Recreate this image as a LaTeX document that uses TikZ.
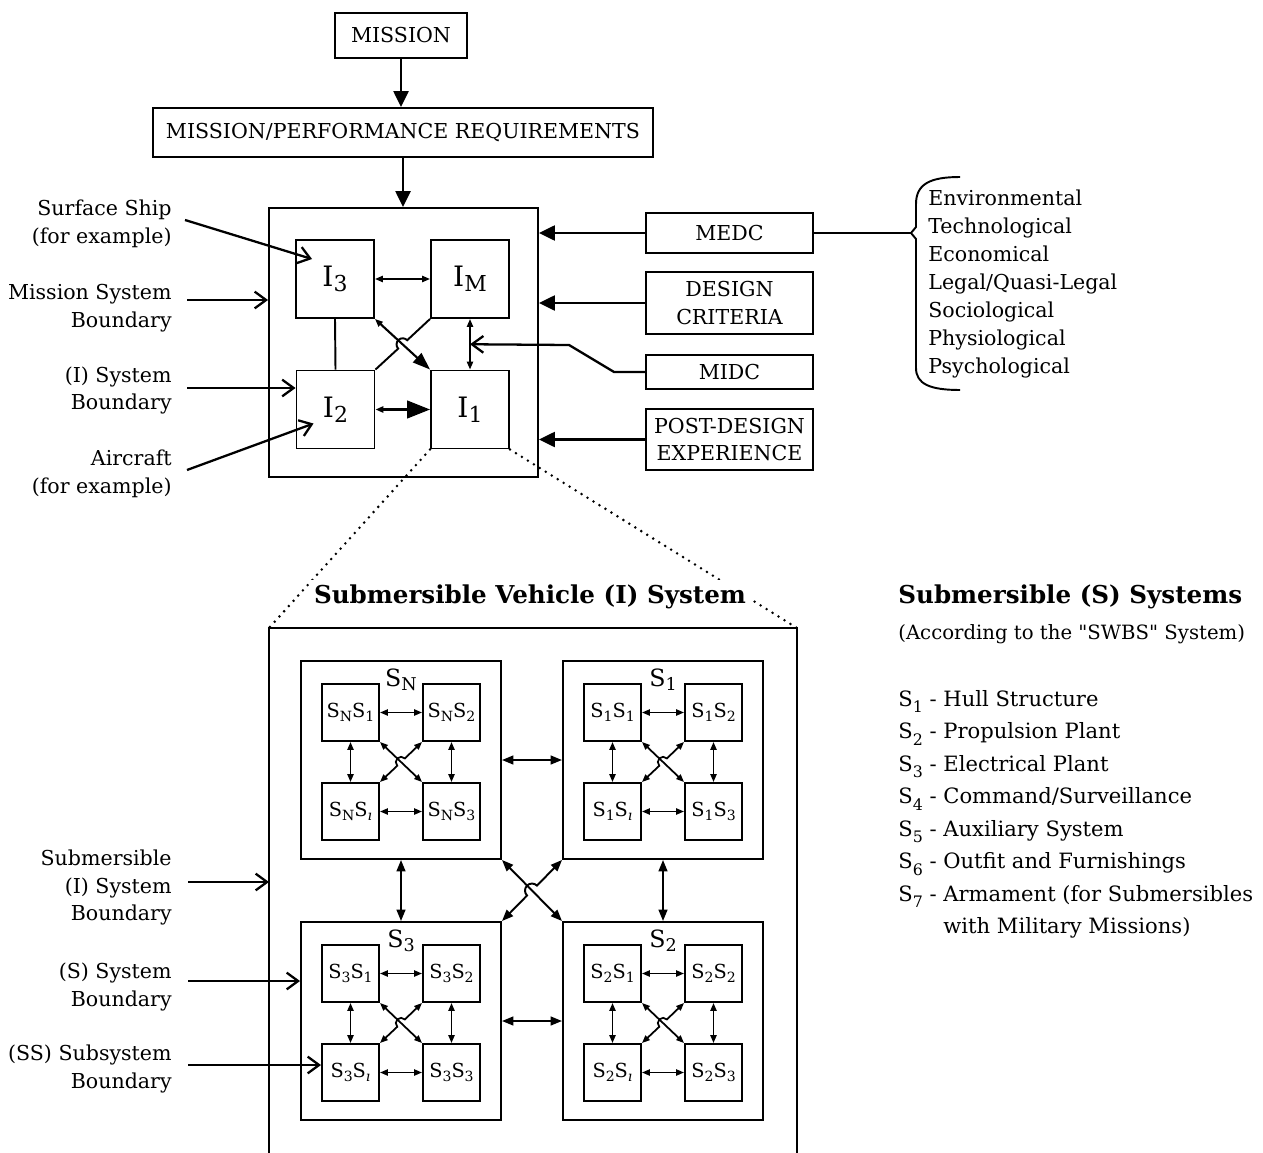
\documentclass[tikz,border=0pt]{standalone}
\usepackage{fontspec}
\setmainfont{DejaVu Serif}
\newfontfamily\rawfont{DejaVu Serif}[Ligatures=TeXOff]
\usetikzlibrary{arrows.meta,calc}

\newcommand\Isub[1]{I\raisebox{-0.35ex}{\fontsize{12.5}{12.5}\selectfont #1}}
\newcommand\ssub[1]{\raisebox{-0.4ex}{\fontsize{8}{8}\selectfont #1}}
\newcommand\lsub[1]{\raisebox{-0.6ex}{\fontsize{9}{9}\selectfont #1}}

\newcommand\SubSys[4]{%
  \node[box,pbox={200}{198}] (#1) at (#2+100,-#3-99) {};
  \node[font=\fontsize{13.5}{13.5}\selectfont] (#1l) at (#2+100,-#3-19) {S\raisebox{-0.35ex}{\fontsize{10}{10}\selectfont #4}};
  \node[box,pbox={57}{57},font=\fontsize{11}{11}\selectfont] (#1a) at (#2+49.5,-#3-51.5) {S\ssub{#4}S\ssub{1}};
  \node[box,pbox={57}{57},font=\fontsize{11}{11}\selectfont] (#1b) at (#2+150.5,-#3-51.5) {S\ssub{#4}S\ssub{2}};
  \node[box,pbox={57}{57},font=\fontsize{11}{11}\selectfont] (#1c) at (#2+49.5,-#3-150.5) {S\ssub{#4}S\ssub{\textit{\i}}};
  \node[box,pbox={57}{57},font=\fontsize{11}{11}\selectfont] (#1d) at (#2+150.5,-#3-150.5) {S\ssub{#4}S\ssub{3}};
  \draw[sarr] (#1a.east) -- (#1b.west);
  \draw[sarr] (#1c.east) -- (#1d.west);
  \draw[sarr] (#1a.south) -- (#1c.north);
  \draw[sarr] (#1b.south) -- (#1d.north);
  \draw[sarr] (#1a.south east) -- (#1d.north west);
  \coordinate (#1x) at (intersection of #1a.south east--#1d.north west and #1b.south west--#1c.north east);
  \draw[sarr] (#1b.south west) -- ($(#1x)!3pt!(#1b.south west)$) arc[start angle=44,end angle=224,radius=3pt] -- (#1c.north east);
}

\begin{document}
\begin{tikzpicture}[x=0.02cm,y=0.02cm,
  every node/.style={font=\fontsize{11.7}{15.9}\selectfont},
  box/.style={draw, line width=1.1pt, inner sep=0pt, align=center},
  pbox/.style 2 args={minimum width=#1*0.02cm, minimum height=#2*0.02cm},
  ln/.style={line width=1.1pt},
  bigarr/.style={-{Triangle[length=9pt,width=8.5pt]}, line width=1.2pt},
  barb/.style={-{Straight Barb[length=6.5pt,width=9.5pt]}, line width=1.3pt},
  sarr/.style={{Triangle[length=4.5pt,width=3.5pt]}-{Triangle[length=4.5pt,width=3.5pt]}, line width=1pt},
  marr/.style={{Triangle[length=6.5pt,width=5pt]}-{Triangle[length=6.5pt,width=5pt]}, line width=1.1pt},
  lbl/.style={anchor=east, align=right, inner sep=0pt},
  dots/.style={line width=1.6pt, line cap=round, dash pattern=on 0pt off 4pt},
]
\useasboundingbox (0,0) rectangle (1263,-1152);

% ---------- top part ----------
\node[box,pbox={132}{45}] (mission) at (401,-35.5) {MISSION};
\node[box,pbox={500}{49}] (req) at (403,-132.5) {MISSION/PERFORMANCE REQUIREMENTS};
\node[box,pbox={269}{269}] (isys) at (403.5,-342.5) {};
\node[box,pbox={78}{78},font=\fontsize{16}{16}\selectfont] (i3) at (335,-279) {\Isub{3}};
\node[box,pbox={78}{78},font=\fontsize{16}{16}\selectfont] (im) at (470,-279) {\Isub{M}};
\node[box,pbox={78}{78},font=\fontsize{16}{16}\selectfont] (i2) at (335.5,-409.5) {\Isub{2}};
\node[box,pbox={78}{78},font=\fontsize{16}{16}\selectfont] (i1) at (470,-409.5) {\Isub{1}};

\node[box,pbox={167}{40}] (medc) at (729.5,-233) {MEDC};
\node[box,pbox={167}{62}] (dc) at (729.5,-303) {DESIGN\\CRITERIA};
\node[box,pbox={167}{34}] (midc) at (729.5,-372) {MIDC};
\node[box,pbox={167}{61}] (pde) at (729.5,-439.5) {POST-DESIGN\\EXPERIENCE};

\draw[bigarr] (mission.south) -- (mission.south |- req.north);
\draw[bigarr] (req.south) -- (req.south |- isys.north);
\draw[bigarr] (medc.west) -- (medc.west -| isys.east);
\draw[bigarr] (dc.west) -- (dc.west -| isys.east);
\draw[bigarr] (pde.west) -- (pde.west -| isys.east);

\draw[sarr] (i3.east) -- (im.west);
\draw[ln] (i3.south) -- (i2.north);
\draw[sarr] (im.south) -- (i1.north);
\draw[{Triangle[length=4.5pt,width=3.5pt]}-{Triangle[length=10pt,width=7pt]}, line width=1.2pt] (i3.south east) -- (i1.north west);
\coordinate (ix) at (intersection of i3.south east--i1.north west and im.south west--i2.north east);
\draw[ln] (im.south west) -- ($(ix)!3.5pt!(im.south west)$) arc[start angle=43,end angle=223,radius=3.5pt] -- (i2.north east);
\draw[{Triangle[length=4.5pt,width=3.5pt]}-{Triangle[length=13pt,width=10pt]}, line width=1.2pt] (i2.east) -- (i1.west);

\coordinate (midv) at ($(im.south)!0.5!(i1.north)$);
\draw[barb] (midc.west) -- ++(-31,0) -- ++(-45,27) -- (midv);

% brace and list
\draw[ln] (medc.east) -- (912,-233);
\draw[ln] (960,-177) .. controls (930,-177) and (916,-184) .. (916,-204) -- (916,-227) -- (911,-233) -- (916,-239) -- (916,-368) .. controls (916,-384) and (930,-390) .. (960,-390);
\node[anchor=west, align=left, inner sep=0pt] (facts) at (928,-284) {Environmental\\Technological\\Economical\\Legal/Quasi-Legal\\Sociological\\Physiological\\Psychological};

% left labels
\node[lbl] (ss) at (172,-224) {Surface Ship\\(for example)};
\coordinate (ssA) at (185,-220);
\draw[barb] (ssA) -- ($(i3.north west)+(17,-20)$);
\node[lbl] (msb) at (172,-308.5) {Mission System\\Boundary};
\coordinate (msA) at (187,-300);
\draw[barb] (msA) -- (msA -| isys.west);
\node[lbl] (isb) at (172,-390.5) {(I) System\\Boundary};
\coordinate (isA) at (187,-388);
\draw[barb] (isA) -- (isA -| i2.west);
\node[lbl] (ac) at (172,-474) {Aircraft\\(for example)};
\coordinate (acA) at (187,-470);
\draw[barb] (acA) -- ($(i2.north west)+(18,-54)$);

% ---------- bottom part ----------
\coordinate (bnw) at (269,-628);
\coordinate (bne) at (797,-628);
\draw[dots] (i1.south west) -- (bnw);
\draw[dots] (i1.south east) -- (bne);
\draw[ln] (269,-1160) -- (bnw) -- (bne) -- (797,-1160);
\node[fill=white, inner sep=3pt, font=\bfseries\fontsize{14}{16}\selectfont] (title) at (530,-597) {Submersible Vehicle (I) System};

\SubSys{sn}{301}{661}{N}
\SubSys{so}{563}{661}{1}
\SubSys{sh}{301}{922}{3}
\SubSys{st}{563}{922}{2}

\draw[marr] (sn.east) -- (so.west);
\draw[marr] (sh.east) -- (st.west);
\draw[marr] (sn.south) -- (sh.north);
\draw[marr] (so.south) -- (st.north);
\draw[marr] (sn.south east) -- (st.north west);
\coordinate (bx) at (intersection of sn.south east--st.north west and so.south west--sh.north east);
\draw[marr] (so.south west) -- ($(bx)!4pt!(so.south west)$) arc[start angle=45,end angle=225,radius=4pt] -- (sh.north east);

\node[lbl] (subl) at (172,-887.5) {Submersible\\(I) System\\Boundary};
\coordinate (subA) at (188,-882);
\draw[barb] (subA) -- (subA -| bnw);
\node[lbl] (ssl) at (172,-986.5) {(S) System\\Boundary};
\coordinate (sslA) at (188,-981);
\draw[barb] (sslA) -- (sslA -| sh.west);
\node[lbl] (sssl) at (172,-1068.5) {(SS) Subsystem\\Boundary};
\coordinate (ssslA) at (188,-1065);
\draw[barb] (ssslA) -- (ssslA -| shc.west);

% right-hand legend
\node[anchor=west, inner sep=0pt, font=\bfseries\fontsize{14}{16}\selectfont] (rt) at (898,-597) {Submersible (S) Systems};
\node[anchor=west, inner sep=0pt, font=\fontsize{11.2}{12}\selectfont] (rs) at (898,-634) {(According to the {\rawfont"}SWBS{\rawfont"} System)};
\node[anchor=north west, align=left, inner sep=0pt, font=\fontsize{12}{18.5}\selectfont] (rl) at (898,-690) {S\lsub{1} - Hull Structure\\
S\lsub{2} - Propulsion Plant\\
S\lsub{3} - Electrical Plant\\
S\lsub{4} - Command/Surveillance\\
S\lsub{5} - Auxiliary System\\
S\lsub{6} - Outfit and Furnishings\\
S\lsub{7} - Armament (for Submersibles\\
\hphantom{S\lsub{7} - }with Military Missions)};
\end{tikzpicture}
\end{document}
